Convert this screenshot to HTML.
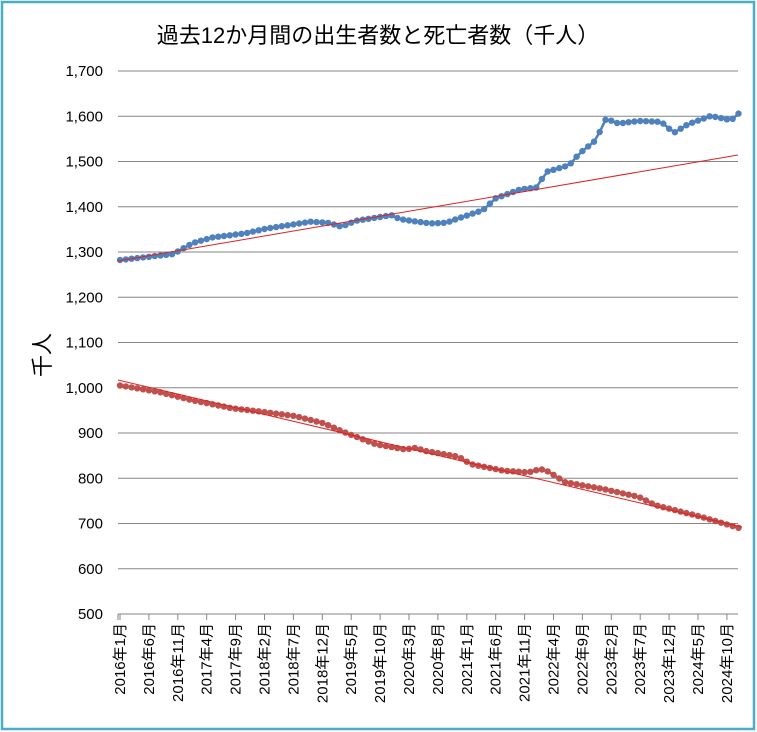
<!DOCTYPE html>
<html><head><meta charset="utf-8"><style>
body{margin:0;background:#fff}
svg{display:block;font-family:"Liberation Sans","Noto Sans CJK JP",sans-serif}
</style></head><body>
<svg id="s" width="757" height="732" xmlns="http://www.w3.org/2000/svg"></svg>
<script>
const s=document.getElementById('s');
let h='<rect x="2" y="2" width="752" height="727" fill="#fff" stroke="#4BACC6" stroke-width="2.5"/>';
h+='<text x="378" y="43" font-size="22" text-anchor="middle" fill="#000">過去12か月間の出生者数と死亡者数（千人）</text>';
const Y=v=>614-(v-500)*0.4525, X=i=>120+5.78*i;
for(let v=500;v<=1700;v+=100){
 if(v>500)h+=`<line x1="118" x2="738" y1="${Y(v)}" y2="${Y(v)}" stroke="#868686" stroke-width="1"/>`;
 h+=`<text x="103" y="${Y(v)+5}" font-size="15" text-anchor="end">${v.toLocaleString('en-US')}</text>`;
}
h+='<line x1="118" x2="738" y1="614" y2="614" stroke="#868686"/>';
h+='<line x1="118" x2="118" y1="614" y2="620" stroke="#868686"/>';
for(let i=0;i<=105;i+=5){
 const x=X(i), yr=2016+Math.floor(i/12), m=i%12+1;
 h+=`<line x1="${x}" x2="${x}" y1="614" y2="620" stroke="#868686"/>`;
 h+=`<text transform="translate(${x+5},623) rotate(-90)" font-size="15" text-anchor="end">${yr}年${m}月</text>`;
}
h+='<text transform="translate(50,355) rotate(-90)" font-size="22" text-anchor="middle">千人</text>';
const SX=2.439;
function interp(kp){const zx=kp.map(p=>(p[0]/SX+110-120)/5.78);const out=[];
 for(let i=0;i<108;i++){let j=0;while(j<kp.length-2&&zx[j+1]<i)j++;
  let t=(i-zx[j])/(zx[j+1]-zx[j]);t=Math.max(0,Math.min(1,t));out.push(kp[j][1]+(kp[j+1][1]-kp[j][1])*t);}return out;}
const bk=[[25,480],[155,462],[200,430],[250,412],[330,400],[380,386],[490,365],[530,368],[565,380],[600,362],[690,345],[705,357],[780,370],[820,368],[850,355],[910,330],[940,295],[1000,268],[1040,262],[1065,215],[1120,195],[1145,160],[1185,120],[1210,55],[1240,70],[1290,62],[1345,65],[1375,98],[1410,72],[1465,47],[1515,60],[1532,40]].map(p=>[p[0],1600-(p[1]-48)*100/136]);
const rk=[[25,45],[120,65],[200,90],[300,115],[370,125],[450,138],[520,160],[580,192],[650,225],[720,240],[745,235],[770,245],[850,262],[880,285],[960,305],[1020,310],[1050,300],[1070,308],[1110,340],[1200,360],[1290,385],[1330,410],[1440,445],[1535,480]].map(p=>[p[0],1000-(p[1]-52)*100/138]);
function series(d,c){let p=d.map((v,i)=>`${X(i).toFixed(1)},${Y(v).toFixed(1)}`).join(' ');
 let r=`<polyline points="${p}" fill="none" stroke="${c}" stroke-width="2.5"/>`;
 d.forEach((v,i)=>r+=`<circle cx="${X(i).toFixed(1)}" cy="${Y(v).toFixed(1)}" r="3.2" fill="${c}"/>`);return r;}
h+=series(interp(bk),'#4F81BD');
h+=series(interp(rk),'#C0504D');
h+='<line x1="118" y1="261" x2="738" y2="155" stroke="#E02020" stroke-width="1"/>';
h+='<line x1="118" y1="380" x2="742" y2="527" stroke="#E02020" stroke-width="1"/>';
s.innerHTML=h;
</script>
</body></html>
